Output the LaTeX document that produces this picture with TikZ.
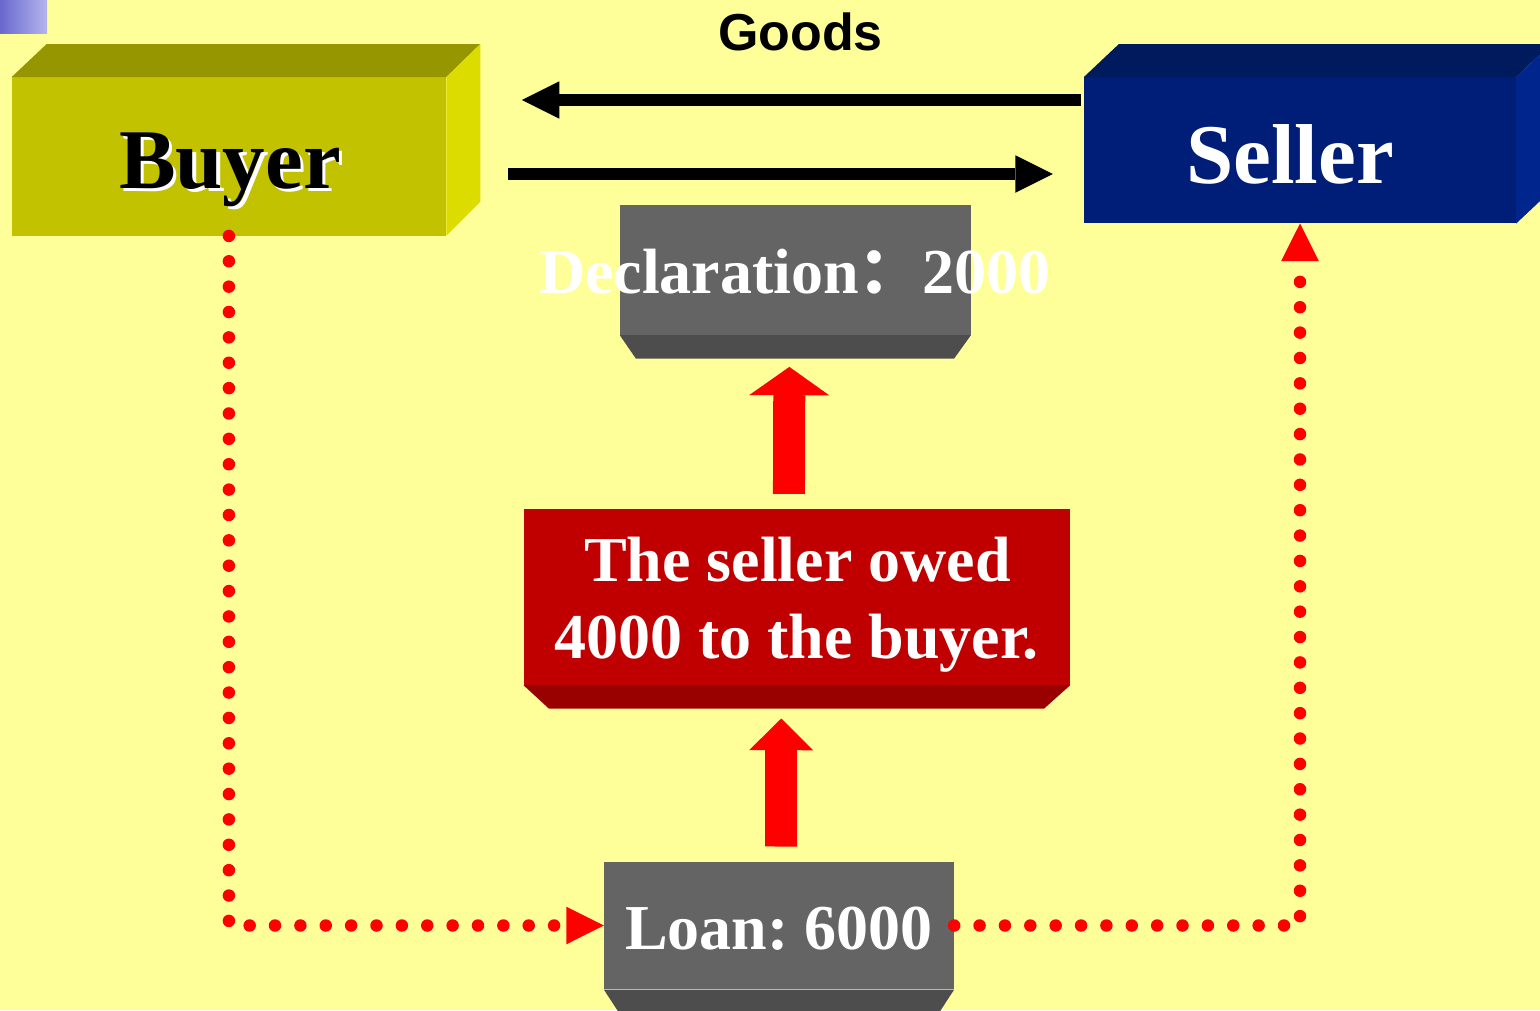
\documentclass[tikz,border=0pt]{standalone}
\usepackage{fontspec}
\setmainfont{Liberation Serif}
\newfontfamily\goodsfont{Liberation Sans}
\newfontfamily\cjk{Noto Sans CJK SC}
\usetikzlibrary{arrows.meta,calc}

\definecolor{paper}{HTML}{FFFF99}
\definecolor{cornerL}{HTML}{6868CE}
\definecolor{cornerR}{HTML}{B4B4EE}
\definecolor{buyerfront}{HTML}{C2C200}
\definecolor{buyertop}{HTML}{969600}
\definecolor{buyerside}{HTML}{DCDC00}
\definecolor{sellerfront}{HTML}{001E78}
\definecolor{sellertop}{HTML}{001A5E}
\definecolor{sellerside}{HTML}{00268E}
\definecolor{grayfront}{HTML}{646464}
\definecolor{graybevel}{HTML}{4D4D4D}
\definecolor{redfront}{HTML}{C00000}
\definecolor{redbevel}{HTML}{990000}
\definecolor{flowred}{HTML}{FF0000}

\frenchspacing

\begin{document}
\begin{tikzpicture}[x=1pt,y=-1pt,
  face/.style={shape=rectangle,inner sep=0pt,draw=none},
  boxtext/.style={anchor=base,inner sep=0pt,text=white,
    font=\bfseries\fontsize{64}{64}\selectfont},
  partytext/.style={anchor=base,inner sep=0pt,
    font=\bfseries\fontsize{85}{85}\selectfont},
  goodsarrow/.style={draw=black,line width=12pt,
    -{Triangle[length=37.5pt,width=37.5pt,line width=0pt]}},
  blockarrow/.style={draw=flowred,line width=32pt},
  dotpath/.style={draw=flowred,line width=12.5pt,line cap=round,
    dash pattern=on 0pt off 25.37pt,
    -{Triangle[length=37.5pt,width=37.7pt,line width=0pt]}}]

\useasboundingbox (0,0) rectangle (1540,1010);
\clip (0,0) rectangle (1540,1010);
\fill[paper] (0,0) rectangle (1540,1010);
\shade[left color=cornerL,right color=cornerR] (0,0) rectangle (47,33.7);

% front faces
\node[face,fill=buyerfront,minimum width=434.3pt,minimum height=158.4pt] (buyer) at (228.9,156.5) {};
\node[face,fill=sellerfront,minimum width=432pt,minimum height=146pt] (seller) at (1300,150.3) {};
\node[face,fill=grayfront,minimum width=350.7pt,minimum height=130pt] (decl) at (795.35,270) {};
\node[face,fill=redfront,minimum width=546.3pt,minimum height=175.7pt] (owed) at (796.85,597.15) {};
\node[face,fill=grayfront,minimum width=350pt,minimum height=127.6pt] (loan) at (779,925.5) {};

% depth faces of the two party blocks
\fill[buyertop] (buyer.north west) -- ++(35,-33) -- ($(buyer.north east)+(34,-33)$) -- (buyer.north east) -- cycle;
\fill[buyerside] (buyer.north east) -- ++(34,-33) -- ($(buyer.south east)+(34,-34)$) -- (buyer.south east) -- cycle;
\fill[sellertop] (seller.north west) -- ++(35,-33) -- ($(seller.north east)+(35,-33)$) -- (seller.north east) -- cycle;
\fill[sellerside] (seller.north east) -- ++(35,-33) -- ($(seller.south east)+(35,-33)$) -- (seller.south east) -- cycle;

% bevels under the flat blocks
\fill[graybevel] (decl.south west) -- (decl.south east) -- ++(-16.7,23.3) -- ($(decl.south west)+(16,23.3)$) -- cycle;
\fill[redbevel] (owed.south west) -- (owed.south east) -- ++(-26,23.3) -- ($(owed.south west)+(25.3,23.3)$) -- cycle;
\fill[graybevel] (loan.south west) -- (loan.south east) -- ++(-15,23) -- ($(loan.south west)+(15,23)$) -- cycle;

% goods and payment arrows between the parties
\draw[goodsarrow] ($(seller.west)+(-3,-50.3)$) -- ($(buyer.east)+(75.6,-56.5)$);
\draw[goodsarrow] ($(buyer.east)+(62,17.5)$) -- ($(seller.west)+(-31,23.7)$);
\node[anchor=base,inner sep=0pt,font=\goodsfont\bfseries\fontsize{52}{52}\selectfont] (goods) at (800.5,50) {Goods};

% upward block arrows
\draw[blockarrow,-{Triangle[length=28.3pt,width=80pt,line width=0pt]}]
  ($(owed.north)+(-7.9,-15.3)$) -- ($(decl.south)+(-6,31.7)$);
\draw[blockarrow,-{Triangle[length=31.7pt,width=64pt,line width=0pt]}]
  ($(loan.north)+(2,-15)$) -- ($(owed.south)+(-15.6,33.3)$);

% dotted money flow through the loan
\draw[dotpath] (buyer.south) |- (loan.west);
\draw[dotpath] (loan.east) -| (seller.south);

% labels
\node[partytext,text=white] (buyer-shadow) at ($(buyer.center)+(4.5,34.8)$) {Buyer};
\node[partytext,text=black] (buyer-label) at ($(buyer.center)+(1.1,31.5)$) {Buyer};
\node[partytext,text=white] (seller-label) at ($(seller.center)+(-10,32.7)$) {Seller};
\node[boxtext] (decl-label) at ($(decl.center)+(-0.4,23.3)$) {Declaration{\cjk ：}2000};
\node[boxtext] (owed-line1) at ($(owed.center)+(0.6,-15.5)$) {The seller owed};
\node[boxtext] (owed-line2) at ($(owed.center)+(-0.3,61.1)$) {4000 to the buyer.};
\node[boxtext] (loan-label) at ($(loan.center)+(0,23.5)$) {Loan: 6000};
\end{tikzpicture}
\end{document}
